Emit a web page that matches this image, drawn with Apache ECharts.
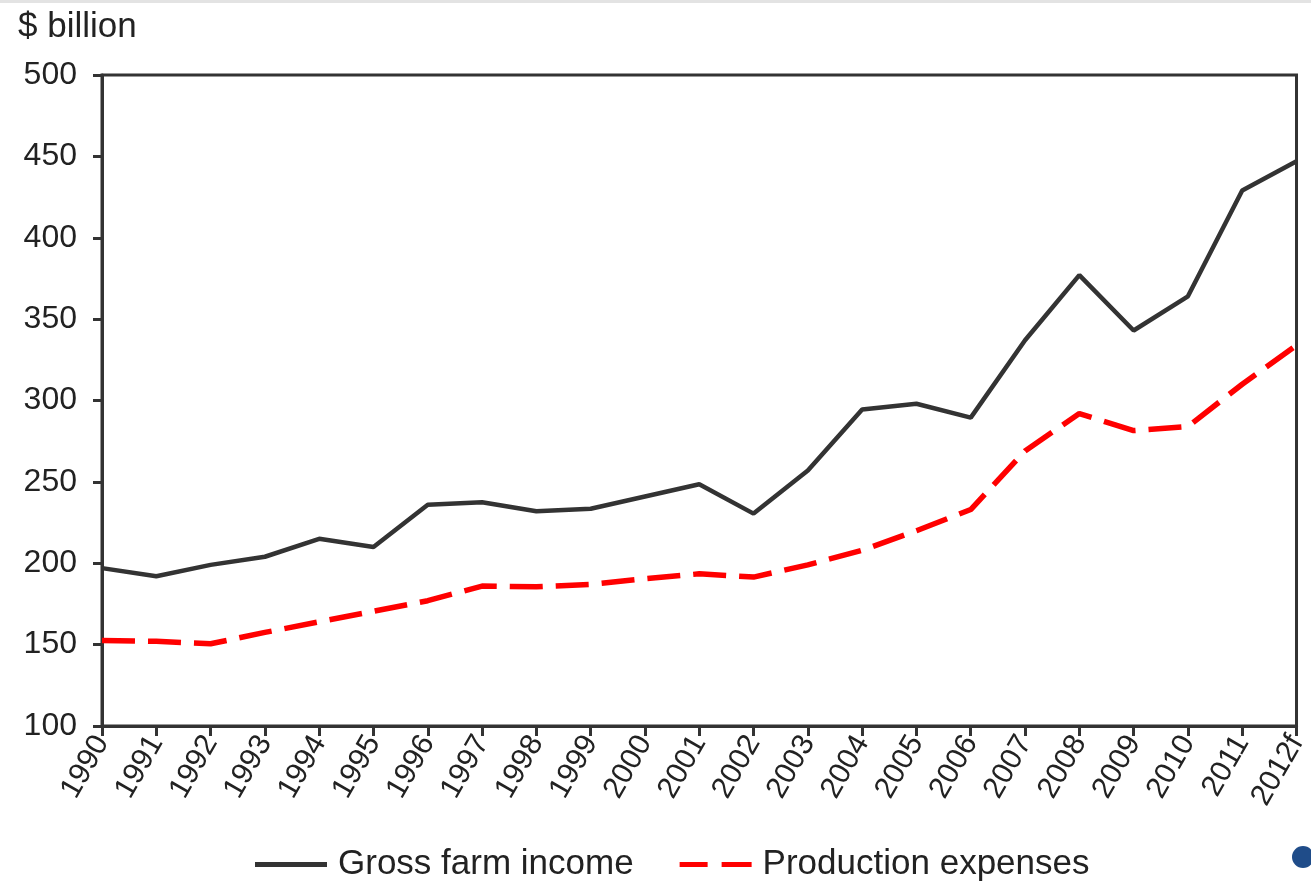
<!DOCTYPE html>
<html>
<head>
<meta charset="utf-8">
<script src="https://cdn.jsdelivr.net/npm/echarts@6/dist/echarts.min.js"></script>
<style>
  html, body { margin: 0; padding: 0; background: #fff; }
  #chart { width: 1311px; height: 883px; }
</style>
</head>
<body>
<div id="chart"></div>
<script>
// Years on the horizontal axis (2012 is a forecast)
const years = ['1990','1991','1992','1993','1994','1995','1996','1997','1998','1999','2000',
  '2001','2002','2003','2004','2005','2006','2007','2008','2009','2010','2011','2012f'];

// $ billion
const grossFarmIncome = [197, 192, 199, 204, 215, 210, 236, 237.5, 232, 233.5, 241,
  248.5, 230.5, 257, 294.5, 298, 289.5, 337, 377, 343, 364, 429, 447];

const productionExpenses = [152.5, 152, 150.5, 157.5, 164, 170.5, 177, 186, 185.5, 187, 190.5,
  193.5, 191.5, 199, 208, 220, 233, 269, 292, 281.5, 284, 310, 334];

const yTicks = { min: 100, max: 500, step: 50 };

const FONT = 'Liberation Sans, Arial, sans-serif';
const AXIS_COLOR = '#333';

const chart = echarts.init(document.getElementById('chart'), null, { renderer: 'canvas' });

chart.setOption({
  backgroundColor: '#ffffff',
  animation: false,
  title: {
    text: '$ billion',
    left: 13,
    top: 5,
    textStyle: { fontFamily: FONT, fontSize: 35, fontWeight: 'normal', color: '#222' }
  },
  graphic: [
    { type: 'rect', shape: { x: 0, y: 0, width: 1311, height: 3 }, style: { fill: '#e3e3e3' } },
    { type: 'circle', shape: { cx: 1303, cy: 857, r: 11 }, style: { fill: '#1f4c89' } }
  ],
  grid: {
    left: 102, right: 11, top: 75, bottom: 157,
    show: true,
    borderColor: AXIS_COLOR,
    borderWidth: 3,
    backgroundColor: 'transparent'
  },
  legend: {
    left: 250,
    top: 842,
    itemWidth: 72,
    itemHeight: 20,
    itemGap: 46,
    textStyle: { fontFamily: FONT, fontSize: 35, color: '#222', padding: [0, 0, 0, 6] },
    data: [
      { name: 'Gross farm income', icon: 'path://M0,0 L72,0 L72,5 L0,5 Z', itemStyle: { color: '#333' } },
      { name: 'Production expenses', icon: 'path://M0,0 L28,0 L28,5 L0,5 Z M42,0 L72,0 L72,5 L42,5 Z', itemStyle: { color: '#ff0000' } }
    ]
  },
  xAxis: {
    type: 'category',
    data: years,
    boundaryGap: false,
    axisLine: { lineStyle: { color: AXIS_COLOR, width: 3 } },
    axisTick: { alignWithLabel: true, length: 10, lineStyle: { color: AXIS_COLOR, width: 3 } },
    axisLabel: {
      interval: 0,
      rotate: 60,
      margin: 12,
      fontFamily: FONT,
      fontSize: 30,
      color: '#222'
    },
    splitLine: { show: false }
  },
  yAxis: {
    type: 'value',
    min: yTicks.min,
    max: yTicks.max,
    interval: yTicks.step,
    axisLine: { show: true, lineStyle: { color: AXIS_COLOR, width: 3 } },
    axisTick: { show: true, length: 9, lineStyle: { color: AXIS_COLOR, width: 3 } },
    axisLabel: { margin: 25, fontFamily: FONT, fontSize: 32, color: '#222' },
    splitLine: { show: false }
  },
  series: [
    {
      name: 'Gross farm income',
      type: 'line',
      data: grossFarmIncome,
      symbol: 'none',
      lineStyle: { color: '#333', width: 4.5 },
      itemStyle: { color: '#333' }
    },
    {
      name: 'Production expenses',
      type: 'line',
      data: productionExpenses,
      symbol: 'none',
      lineStyle: { color: '#ff0000', width: 5.5, type: [33, 13] },
      itemStyle: { color: '#ff0000' }
    }
  ]
});
</script>
</body>
</html>
